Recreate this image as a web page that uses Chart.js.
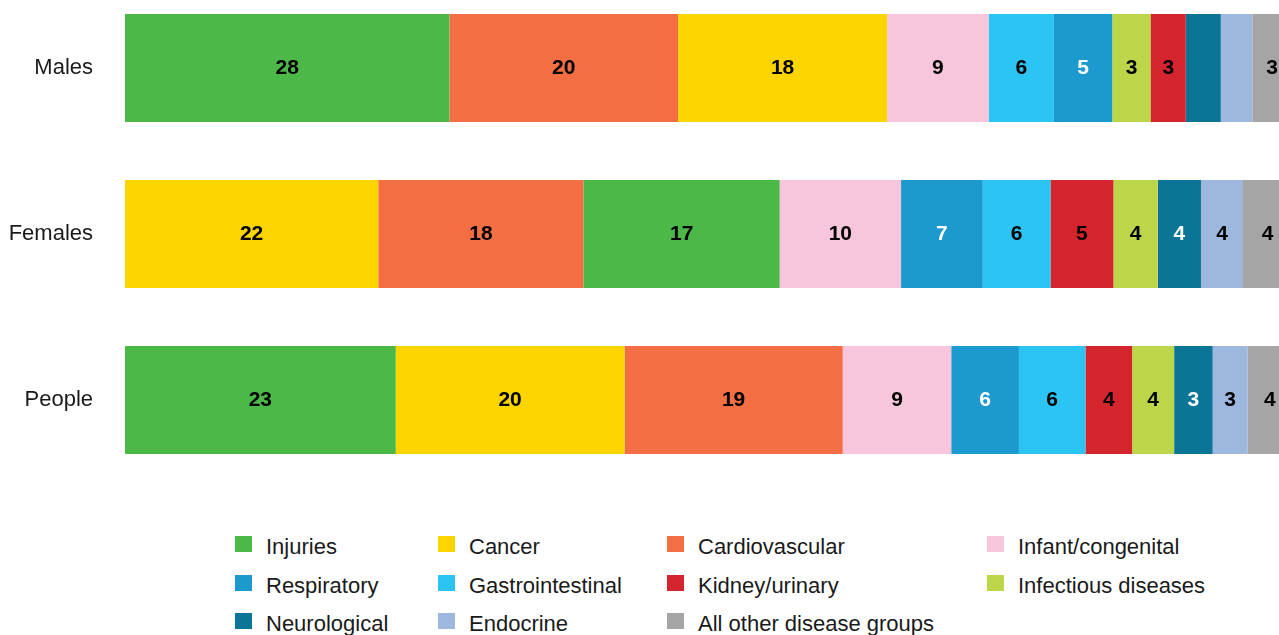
<!DOCTYPE html>
<html>
<head>
<meta charset="utf-8">
<script src="https://cdn.jsdelivr.net/npm/chart.js@4.4.1/dist/chart.umd.min.js"></script>
<style>
  html, body { margin: 0; padding: 0; background: #fff; overflow: hidden; }
  body { width: 1279px; height: 635px; position: relative; font-family: "Liberation Sans", Arial, sans-serif; }
  #chartBox { position: absolute; left: 0; top: -15px; }
  #legend {
    position: absolute; left: 235px; top: 528px;
    display: grid; grid-template-columns: 203px 229px 320px auto;
    grid-auto-rows: 38.5px; color: #1a1a1a; font-size: 22px;
  }
  .item { display: flex; align-items: center; white-space: nowrap; }
  .box { width: 17px; height: 16px; margin-right: 14px; flex: none; position: relative; top: -3px; }
</style>
</head>
<body>
<div id="chartBox"><canvas id="deathsChart" width="1292" height="498"></canvas></div>
<div id="legend"></div>
<script>
// Categories (bars)
const categories = ["Males", "Females", "People"];

// Share of deaths (%) per disease group: [Males, Females, People]
const injuries = [27.8, 16.8, 23.2];
const cancer = [17.9, 21.7, 19.6];
const cardiovascular = [19.6, 17.6, 18.7];
const infant = [8.7, 10.4, 9.3];
const respiratory = [5.0, 7.0, 5.8];
const gastrointestinal = [5.6, 5.8, 5.7];
const kidney = [3.0, 5.4, 4.0];
const infectious = [3.3, 3.8, 3.6];
const neurological = [3.0, 3.7, 3.3];
const endocrine = [2.7, 3.6, 3.0];
const otherGroups = [3.4, 4.2, 3.8];

// Order of segments inside each bar (left to right)
const malesOrder = ["Injuries", "Cardiovascular", "Cancer", "Infant/congenital", "Gastrointestinal",
  "Respiratory", "Infectious diseases", "Kidney/urinary", "Neurological", "Endocrine", "All other disease groups"];
const femalesOrder = ["Cancer", "Cardiovascular", "Injuries", "Infant/congenital", "Respiratory",
  "Gastrointestinal", "Kidney/urinary", "Infectious diseases", "Neurological", "Endocrine", "All other disease groups"];
const peopleOrder = ["Injuries", "Cancer", "Cardiovascular", "Infant/congenital", "Respiratory",
  "Gastrointestinal", "Kidney/urinary", "Infectious diseases", "Neurological", "Endocrine", "All other disease groups"];

// Segments shown without a value label
const unlabelled = [["Males", "Neurological"], ["Males", "Endocrine"]];

const series = [
  { name: "Injuries", values: injuries, color: "#4cb848", text: "#000" },
  { name: "Cancer", values: cancer, color: "#fcd500", text: "#000" },
  { name: "Cardiovascular", values: cardiovascular, color: "#f36f43", text: "#000" },
  { name: "Infant/congenital", values: infant, color: "#f8c6dc", text: "#000" },
  { name: "Respiratory", values: respiratory, color: "#1c9acd", text: "#fff" },
  { name: "Gastrointestinal", values: gastrointestinal, color: "#2bc4f3", text: "#000" },
  { name: "Kidney/urinary", values: kidney, color: "#d4242d", text: "#000" },
  { name: "Infectious diseases", values: infectious, color: "#bbd649", text: "#000" },
  { name: "Neurological", values: neurological, color: "#0b7598", text: "#fff" },
  { name: "Endocrine", values: endocrine, color: "#9db7de", text: "#000" },
  { name: "All other disease groups", values: otherGroups, color: "#a5a5a5", text: "#000" },
];

const orders = [malesOrder, femalesOrder, peopleOrder];

// Build floating [start, end] ranges from values and the per-bar order
function rangeFor(s, barIndex) {
  const order = orders[barIndex];
  let start = 0;
  for (const name of order) {
    if (name === s.name) break;
    start += series.find((x) => x.name === name).values[barIndex];
  }
  return [start, start + s.values[barIndex]];
}

const datasets = series.map((s) => ({
  label: s.name,
  data: categories.map((c, i) => rangeFor(s, i)),
  backgroundColor: s.color,
  borderWidth: 0,
  grouped: false,
  barPercentage: 1,
  categoryPercentage: 0.65,
}));

// Value labels in the middle of each segment
const valueLabels = {
  id: "valueLabels",
  afterDatasetsDraw(chart) {
    const ctx = chart.ctx;
    ctx.save();
    ctx.font = "bold 21px 'Liberation Sans', Arial, sans-serif";
    ctx.textAlign = "center";
    ctx.textBaseline = "middle";
    chart.data.datasets.forEach((ds, di) => {
      const s = series[di];
      chart.getDatasetMeta(di).data.forEach((bar, i) => {
        const hide = unlabelled.some((u) => u[0] === categories[i] && u[1] === s.name);
        if (hide) return;
        ctx.fillStyle = s.text;
        ctx.fillText(String(Math.round(s.values[i])), (bar.x + bar.base) / 2, bar.y);
      });
    });
    ctx.restore();
  },
};

const ctx = document.getElementById("deathsChart").getContext("2d");
const deathsChart = new Chart(ctx, {
  type: "bar",
  data: { labels: categories, datasets: datasets },
  options: {
    indexAxis: "y",
    responsive: false,
    animation: false,
    layout: { padding: 0 },
    scales: {
      x: { display: false, min: 0, max: 100 },
      y: {
        grid: { display: false, drawTicks: false },
        border: { display: false },
        ticks: {
          color: "#1a1a1a",
          padding: 32,
          font: { family: "'Liberation Sans', Arial, sans-serif", size: 22 },
        },
        afterFit(scale) {
          scale.width = 125;
          scale.paddingTop = 0;
          scale.paddingBottom = 0;
        },
      },
    },
    plugins: {
      legend: { display: false },
      tooltip: { enabled: false },
    },
  },
  plugins: [valueLabels],
});

// HTML legend in four columns
const legendEl = document.getElementById("legend");
series.forEach((s) => {
  const item = document.createElement("div");
  item.className = "item";
  item.innerHTML = `<span class="box" style="background:${s.color}"></span><span>${s.name}</span>`;
  legendEl.appendChild(item);
});
</script>
</body>
</html>
